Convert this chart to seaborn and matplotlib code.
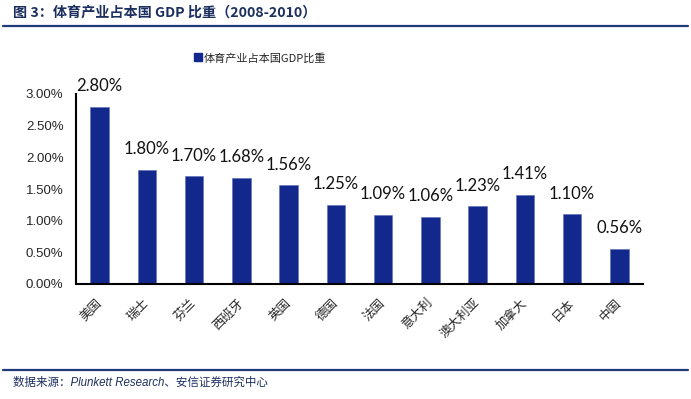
import numpy as np
import pandas as pd
import matplotlib
matplotlib.use("Agg")
import matplotlib.pyplot as plt
import seaborn as sns
from matplotlib.lines import Line2D

# data
countries = ['美国', '瑞士', '芬兰', '西班牙', '英国', '德国', '法国',
             '意大利', '澳大利亚', '加拿大', '日本', '中国']
share_pct = [2.80, 1.80, 1.70, 1.68, 1.56, 1.25, 1.09, 1.06, 1.23, 1.41, 1.10, 0.56]
yticks = [0.0, 0.5, 1.0, 1.5, 2.0, 2.5, 3.0]

title_text = '图 3：体育产业占本国 GDP 比重（2008-2010）'
legend_text = '体育产业占本国GDP比重'
source_text = '数据来源：Plunkett Research、安信证券研究中心'

bar_color = '#13288C'
navy = '#1F3A78'

sns.set_style('white')
plt.rcParams['font.family'] = ['Noto Sans CJK SC', 'DejaVu Sans']

W, H = 691, 399
fig = plt.figure(figsize=(W / 100, H / 100), dpi=100)
ax = fig.add_axes([76 / W, 1 - 284 / H, (643 - 76) / W, (284 - 94) / H])

df = pd.DataFrame({'country': countries, 'share': share_pct})
sns.barplot(data=df, x='country', y='share', color=bar_color, width=0.39,
            saturation=1, ax=ax, edgecolor='#5A6FB8', linewidth=0.4)

ax.set_xlim(-0.5, len(countries) - 0.5)
ax.set_ylim(0, 3.0)
ax.set_yticks(yticks)
ax.set_yticklabels([f'{v:.2f}%' for v in yticks],
                   family=['Liberation Sans Narrow', 'Liberation Sans'], fontsize=9.5)
ax.set_xlabel('')
ax.set_ylabel('')

# category separators as minor ticks
ax.set_xticks(np.arange(-0.5, len(countries)), minor=True)
ax.tick_params(axis='x', which='major', length=0, pad=12, labelsize=9)
ax.tick_params(axis='x', which='minor', length=5, width=1.3, direction='out', color='black')
ax.tick_params(axis='y', length=5, width=1.3, direction='out', color='black', pad=4)
for lbl in ax.get_xticklabels():
    lbl.set_rotation(45)
    lbl.set_ha('right')
    lbl.set_va('center')
    lbl.set_rotation_mode('anchor')

for side in ['top', 'right']:
    ax.spines[side].set_visible(False)
for side in ['left', 'bottom']:
    ax.spines[side].set_color('black')
    ax.spines[side].set_linewidth(1.5)

# value labels above bars
for i, v in enumerate(share_pct):
    ax.annotate(f'{v:.2f}%', (i, v), xytext=(0, 9), textcoords='offset points',
                ha='center', va='bottom', fontsize=12, family=['Lato', 'DejaVu Sans'],
                color='#111111', annotation_clip=False)

# legend
handle = Line2D([], [], marker='s', linestyle='', color=bar_color, markersize=6)
fig.legend([handle], [legend_text], loc='center left', bbox_to_anchor=(184 / W, 1 - 58 / H),
           frameon=False, fontsize=8, handletextpad=0.1, handlelength=0.8)

# header / footer
fig.text(13 / W, 1 - 13 / H, title_text, fontsize=10.2, fontweight='bold',
         color='#1C2F5E', ha='left', va='center')
fig.add_artist(Line2D([3 / W, 688 / W], [1 - 26 / H] * 2, color=navy, lw=1.6))
fig.add_artist(Line2D([3 / W, 688 / W], [1 - 370 / H] * 2, color=navy, lw=1.6))
fig.text(13 / W, 1 - 383 / H, source_text, fontsize=8.3, style='italic',
         family=['Liberation Sans', 'Noto Sans CJK SC'],
         color='#1C2F5E', ha='left', va='center')

fig.savefig('out.png', dpi=100)
